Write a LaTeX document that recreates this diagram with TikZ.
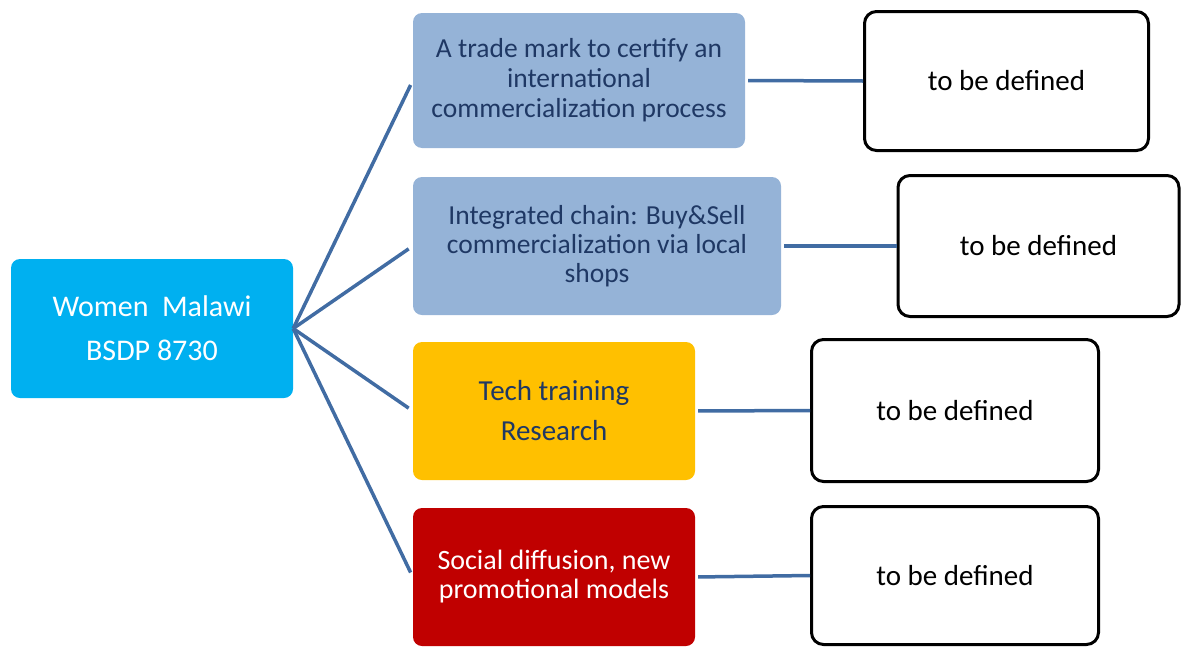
\documentclass[tikz,border=0pt]{standalone}
\usepackage{fontspec}
\setmainfont{Carlito}
\definecolor{rootblue}{HTML}{00B0F0}
\definecolor{paleblue}{HTML}{95B3D7}
\definecolor{amber}{HTML}{FFC000}
\definecolor{darkred}{HTML}{C00000}
\definecolor{navytext}{HTML}{1F3864}
\definecolor{linkblue}{HTML}{416CA3}
\begin{document}
\begin{tikzpicture}[x=1pt,y=-1pt,
  colbox/.style={rectangle, rounded corners=9pt, draw=none, align=center, inner sep=0pt},
  defbox/.style={rectangle, rounded corners=12pt, draw=black, line width=3pt, fill=white, align=center, inner sep=0pt,
    font=\fontsize{29}{30}\selectfont, text=black},
  spoke/.style={draw=linkblue, line width=3.5pt, shorten >=5pt},
  link/.style={draw=linkblue, line width=3.5pt, shorten <=3pt}]
\useasboundingbox (0,0) rectangle (1182,648);
\clip (0,0) rectangle (1182,648);
\node[colbox, fill=rootblue, text=white, minimum width=282pt, minimum height=139pt,
  font=\fontsize{30}{44}\selectfont] (root) at (152,328.5) {Women\ \ Malawi\\BSDP 8730};
\node[colbox, fill=paleblue, text=navytext, minimum width=332pt, minimum height=135pt,
  font=\fontsize{27.5}{30}\selectfont] (a) at (579,80.5) {A trade mark to certify an\\international\\commercialization process};
\node[colbox, fill=paleblue, text=navytext, minimum width=368pt, minimum height=138pt,
  font=\fontsize{27.5}{29}\selectfont] (b) at (597,246) {Integrated chain: Buy\&Sell\\commercialization via local\\shops};
\node[colbox, fill=amber, text=navytext, minimum width=282pt, minimum height=138pt,
  font=\fontsize{29}{40}\selectfont] (c) at (554,411) {Tech training\\Research};
\node[colbox, fill=darkred, text=white, minimum width=282pt, minimum height=138pt,
  font=\fontsize{28}{29}\selectfont] (d) at (554,577) {Social diffusion, new\\promotional models};
\node[defbox, minimum width=284pt, minimum height=139pt] (r1) at (1006.5,81) {to be defined};
\node[defbox, minimum width=281pt, minimum height=141pt] (r2) at (1038.5,246) {to be defined};
\node[defbox, minimum width=287pt, minimum height=142pt] (r3) at (955,410.5) {to be defined};
\node[defbox, minimum width=287pt, minimum height=138pt] (r4) at (955,575.5) {to be defined};
\foreach \t in {a,b,c,d} \draw[spoke] (root.east) -- (\t.west);
\draw[link] (a.east) -- (r1.west);
\draw[link] (b.east) -- (r2.west);
\draw[link] (c.east) -- (r3.west);
\draw[link] (d.east) -- (r4.west);
\end{tikzpicture}
\end{document}
